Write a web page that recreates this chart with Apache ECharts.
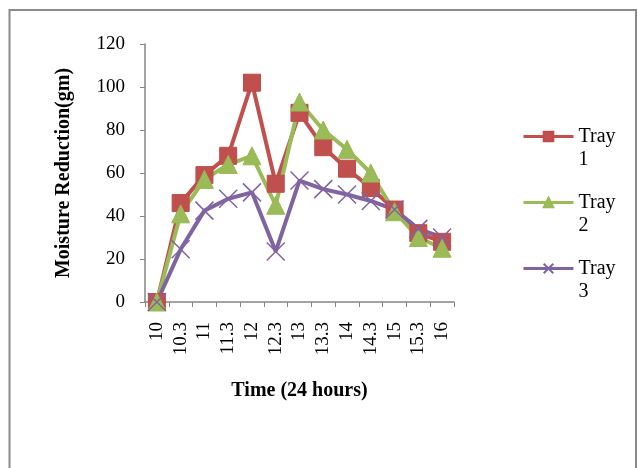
<!DOCTYPE html>
<html>
<head>
<meta charset="utf-8">
<script src="https://cdn.jsdelivr.net/npm/echarts@6/dist/echarts.min.js"></script>
<style>
html,body{margin:0;padding:0;background:#fff;}
#c{width:637px;height:468px;}
</style>
</head>
<body>
<div id="c"></div>
<script>
var categories = ['10','10.3','11','11.3','12','12.3','13','13.3','14','14.3','15','15.3','16'];
var tray1 = [0,46,59,68,102,55,88,72,62,53,43,32,28];
var tray2 = [0,41,57,64,68,45,93,80,71,60,42,30,25];
var tray3 = [0,24.5,42.5,48,51,23.5,56.5,52.5,50,47,43,34,30];
var yTicks = {min:0, max:120, interval:20};

var serif = '"Liberation Serif", "DejaVu Serif", serif';
var axisGray = '#868686';
var chart = echarts.init(document.getElementById('c'));
var xPath = 'path://M0,0L10,10M10,0L0,10';

chart.setOption({
  animation: false,
  backgroundColor: '#fff',
  graphic: [{
    type: 'rect',
    shape: {x: 9.5, y: 10, width: 626.5, height: 520},
    style: {fill: 'none', stroke: '#8a8a8a', lineWidth: 2},
    silent: true
  }],
  grid: {left: 145, right: 183, top: 44, bottom: 166},
  legend: {
    orient: 'vertical',
    left: 522,
    top: 102,
    padding: 0,
    itemWidth: 50,
    itemHeight: 12,
    itemGap: -3,
    lineStyle: {width: 3},
    formatter: function (n) { return ' \n' + n.replace(' ', '\n'); },
    textStyle: {fontFamily: serif, fontSize: 20, color: '#000', lineHeight: 23},
    data: ['Tray 1', 'Tray 2', 'Tray 3']
  },
  xAxis: {
    type: 'category',
    data: categories,
    boundaryGap: true,
    name: 'Time (24 hours)',
    nameLocation: 'middle',
    nameGap: 79,
    nameTextStyle: {fontFamily: serif, fontSize: 20, fontWeight: 'bold', color: '#000'},
    axisLine: {lineStyle: {color: axisGray, width: 1.5}},
    axisTick: {show: true, alignWithLabel: false, length: 5, lineStyle: {color: axisGray}},
    axisLabel: {rotate: 90, margin: 20, fontFamily: serif, fontSize: 19, color: '#000', interval: 0},
    splitLine: {show: false}
  },
  yAxis: {
    type: 'value',
    min: yTicks.min, max: yTicks.max, interval: yTicks.interval,
    name: 'Moisture Reduction(gm)',
    nameLocation: 'middle',
    nameRotate: 90,
    nameGap: 71,
    nameTextStyle: {fontFamily: serif, fontSize: 20, fontWeight: 'bold', color: '#000'},
    axisLine: {show: true, lineStyle: {color: axisGray, width: 1.5}},
    axisTick: {show: true, length: 5, lineStyle: {color: axisGray}},
    axisLabel: {margin: 20, fontFamily: serif, fontSize: 19, color: '#000'},
    splitLine: {show: false}
  },
  series: [
    {
      name: 'Tray 1', type: 'line', data: tray1,
      symbol: 'rect', symbolSize: 17,
      color: '#C0504D',
      lineStyle: {width: 4, color: '#C0504D'},
      itemStyle: {color: '#C0504D', borderColor: '#BE4B48', borderWidth: 1}
    },
    {
      name: 'Tray 2', type: 'line', data: tray2,
      symbol: 'triangle', symbolSize: 18,
      color: '#9BBB59',
      lineStyle: {width: 4, color: '#9BBB59'},
      itemStyle: {color: '#9BBB59', borderColor: '#98B954', borderWidth: 1}
    },
    {
      name: 'Tray 3', type: 'line', data: tray3,
      symbol: xPath, symbolSize: 18,
      color: '#8064A2',
      lineStyle: {width: 4, color: '#8064A2'},
      itemStyle: {color: 'rgba(0,0,0,0)', borderColor: '#8064A2', borderWidth: 1.5}
    }
  ]
});
</script>
</body>
</html>
